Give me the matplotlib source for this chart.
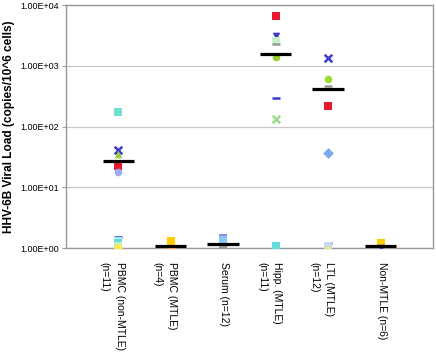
import matplotlib
matplotlib.use('Agg')
import matplotlib.pyplot as plt

# groups along the x axis
groups = ['PBMC (non-MTLE)\n(n=11)', 'PBMC (MTLE)\n(n=4)', 'Serum (n=12)',
          'Hipp. (MTLE)\n(n=11)', 'LTL (MTLE)\n(n=12)', 'Non-MTLE (n=6)']

# viral loads, one list per group
pbmc_non = [175, 41, 35, 22, 18, 1.5, 1.3, 1.2, 1.1, 1.0, 1.0]
pbmc_mtle = [1.3, 1.2, 1.0, 1.0]
serum = [1.45, 1.35, 1.0, 1.0]
hipp = [6600, 3100, 2600, 2250, 1380, 300, 131, 1.1, 1.0, 1.0]
ltl = [1350, 605, 465, 220, 36, 1.2, 1.1, 1.0]
non_mtle = [1.2, 1.0]

means = [27.4, 1.1, 1.15, 1540, 410, 1.1]

# marker colour / shape for each point
pbmc_non_style = [('#70e0d0', 's'), ('#3a3acc', 'x'), ('#99cc33', '^'),
                  ('#e8182d', 's'), ('#a0a8f0', 'o'), ('#3a3acc', '_'),
                  ('#a8e8f0', 's'), ('#66dddd', 's'), ('#c8f0b8', 's'),
                  ('#ffee33', 'o'), ('#ffee33', '^')]
pbmc_mtle_style = [('#ffcc00', 's'), ('#ffcc00', 's'), ('#ff9966', 'o'), ('#ff9966', 'o')]
serum_style = [('#8888ee', 's'), ('#88c8f0', 's'), ('#555555', 'x'), ('#999999', 's')]
hipp_style = [('#e8182d', 's'), ('#3a3acc', 'v'), ('#c8f0d0', 's'), ('#999999', '_'),
              ('#99cc33', 'o'), ('#3a3acc', '_'), ('#99dd88', 'x'),
              ('#66dddd', 's'), ('#66dddd', 's'), ('#66dddd', 's')]
ltl_style = [('#3a3acc', 'x'), ('#99dd33', 'o'), ('#999999', '_'), ('#e8182d', 's'),
             ('#7aaaee', 'D'), ('#3a3acc', '_'), ('#c8d8f8', 's'), ('#ffee33', '^')]
non_mtle_style = [('#ffcc00', 's'), ('#3a3acc', 'v')]

data = [pbmc_non, pbmc_mtle, serum, hipp, ltl, non_mtle]
styles = [pbmc_non_style, pbmc_mtle_style, serum_style, hipp_style, ltl_style, non_mtle_style]

fig = plt.figure(figsize=(4.36, 3.6), dpi=100)
ax = fig.add_axes([0.151, 0.311, 0.842, 0.675])

for i, (vals, sty) in enumerate(zip(data, styles)):
    x = i + 1
    for v, (c, m) in zip(vals, sty):
        lw = 1.8 if m in ('x', '_') else 0
        ax.scatter([x], [v], s=30, color=c, marker=m, linewidths=lw, zorder=3)
    ax.hlines(means[i], x - 0.3, x + 0.3, colors='black', linewidth=2.3, zorder=4)

ax.set_yscale('log')
ax.set_ylim(1, 1e4)
ax.set_xlim(0, 7)
ax.set_yticks([1, 10, 100, 1000, 10000])
ax.set_yticklabels(['1.00E+00', '1.00E+01', '1.00E+02', '1.00E+03', '1.00E+04'],
                   fontsize=6.5, family='Liberation Sans')
ax.yaxis.set_minor_locator(matplotlib.ticker.NullLocator())
ax.grid(axis='y', color='#c8c8c8', linewidth=0.9)
ax.set_axisbelow(True)
for s in ax.spines.values():
    s.set_color('#999999')
    s.set_linewidth(1.0)
ax.tick_params(axis='y', length=3, color='#999999', pad=2)

ax.set_xticks([])
for i, g in enumerate(groups):
    ax.annotate(g, xy=(i + 1, 0), xycoords=('data', 'axes fraction'),
                xytext=(4.5, -10), textcoords='offset points',
                rotation=270, rotation_mode='anchor', ha='left', va='top',
                multialignment='left', fontsize=7.5, linespacing=1.6,
                family='Liberation Sans')

ax.set_ylabel('HHV-6B Viral Load (copies/10^6 cells)', fontsize=8.6,
              fontweight='bold', family='Liberation Sans', labelpad=4)

fig.savefig('out.png', dpi=100)
